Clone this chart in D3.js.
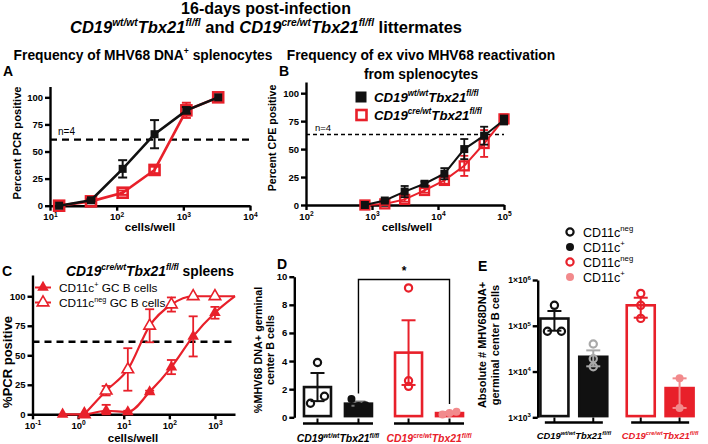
<!DOCTYPE html>
<html><head><meta charset="utf-8">
<script src="https://cdn.jsdelivr.net/npm/d3@7"></script>
<style>
body{margin:0;background:#fff;}
svg{font-family:"Liberation Sans",Arial,sans-serif;display:block;}
</style></head><body>
<svg id="c" width="708" height="444"></svg>
<script>
// ---------- DATA ----------
// Panel A: frequency of MHV68 DNA+ splenocytes (limiting dilution PCR)
const aCells   = [13.7, 41.2, 123, 370, 1111, 3333];
const aWt      = [0, 5, 34, 66, 88, 100];
const aWtErr   = [0, 1, 8, 13, 3, 0];
const aCre     = [0, 4, 12, 33, 88, 100];
const aCreErr  = [0, 1, 2, 3, 7, 0];
const aCutoff  = 61;
const aTicksY  = [0, 25, 50, 75, 100];
const aTicksX  = [10, 100, 1000, 10000];

// Panel B: ex vivo reactivation (CPE)
const bCells   = [781, 1563, 3125, 6250, 12500, 25000, 50000, 100000];
const bWt      = [0, 4, 12, 19, 28, 50, 62, 76];
const bWtErr   = [0, 1, 5, 2, 5, 9, 8, 4];
const bCre     = [0, 1, 5, 13, 22, 35, 55, 77];
const bCreErr  = [0, 1, 2, 2, 3, 9, 12, 4];
const bCutoff  = 63;
const bTicksX  = [100, 1000, 10000, 100000];

// Panel C: CD19cre/wt Tbx21fl/fl spleens, sorted GC B cells
const cPosCells = [0.457, 1.37, 4.12, 12.3, 37, 111, 333, 1000];
const cPos      = [0, 0, 3, 2, 19, 40, 66, 86];
const cPosErr   = [0, 0, 5, 1, 1, 6, 17, 5];
const cNegCells = [1.37, 4.12, 12.3, 37, 111, 333, 1000];
const cNeg      = [0, 20, 38, 75, 93, 100, 100];
const cNegErr   = [0, 4, 18, 14, 6, 0, 0];
const cCurveEnd = [2750, 100];   // fitted curves reach plateau at the right end
const cCutoff   = 61.5;
const cTicksX   = [0.1, 1, 10, 100, 1000];
const cLegend   = ["CD11c", "CD11c"];
const cLegendSup = ["+", "neg"];

// Panel D: % MHV68 DNA+ germinal center B cells
const groups   = ["wt/wt", "cre/wt"];
const subBars  = ["CD11cneg", "CD11c+"];
const dMeans   = [2.15, 0.97, 4.6, 0.3];
const dSem     = [1.0, 0.15, 2.3, 0.08];
const dPoints  = [[3.9, 1.0, 1.5], [1.3, 0.8, 0.85], [9.2, 2.6, 2.2], [0.2, 0.3, 0.4]];
const dTicksY  = [0, 2, 4, 6, 8, 10];

// Panel E: absolute # MHV68 DNA+ GC B cells
const eMeans   = [1.44e5, 2.1e4, 2.8e5, 4.35e3];
const eSem     = [6.6e4, 8e3, 1.3e5, 2.75e3];
const ePoints  = [[2.8e5, 7.6e4, 7.6e4], [4e4, 1.9e4, 1.27e4], [5.1e5, 2.8e5, 1.45e5], [7.1e3, 1.6e3]];
const eTicksY  = [1e3, 1e4, 1e5, 1e6];
const eLegend    = ["CD11c", "CD11c", "CD11c", "CD11c"];
const eLegendSup = ["neg", "+", "neg", "+"];

// ---------- STYLE ----------
const RED = "#e8202a", PINK = "#f28a8c", GREY = "#a9a9a9", BLK = "#111";
const dJitter = [[0, -1, 1], [-1, 0, 1], [0, 0, 0], [-1, 0, 1]];
const eJitter = [[0, -1, 1], [0, 0, 0], [0, 0, 0], [0, 0]];

const svg = d3.select("#c");

function rich(sel, x, y, parts, o = {}) {
  const size = o.size || 12;
  const t = sel.append("text").attr("x", x).attr("y", y)
    .attr("font-size", size).attr("font-weight", o.weight || "bold")
    .attr("fill", o.fill || "#000").attr("text-anchor", o.anchor || "start");
  const up = size * 0.42;
  let shifted = false;
  parts.forEach(p => {
    const ts = t.append("tspan").text(p.t);
    if (p.i) ts.attr("font-style", "italic");
    if (p.sup) ts.attr("font-size", size * 0.62);
    if (p.sup && !shifted) { ts.attr("dy", -up); shifted = true; }
    else if (!p.sup && shifted) { ts.attr("dy", up); shifted = false; }
  });
  return t;
}
const gene = (a) => [{t: "CD19", i: 1}, {t: a, sup: 1, i: 1}, {t: "Tbx21", i: 1}, {t: "fl/fl", sup: 1, i: 1}];

function styleAxis(g, fs) {
  g.selectAll("path, line").attr("stroke", "#000").attr("stroke-width", 2.4);
  g.selectAll("text").attr("font-size", fs).attr("font-weight", "bold")
    .attr("font-family", "Liberation Sans, Arial, sans-serif").attr("fill", "#000");
}
function powLabels(g, fs) {
  g.selectAll(".tick text").each(function(d) {
    const t = d3.select(this); t.text("");
    t.append("tspan").text("10");
    t.append("tspan").text(Math.round(Math.log10(d))).attr("font-size", fs * 0.7).attr("dy", -fs * 0.4);
  });
}
function errBars(g, xs, ys, errs, x, y, color, cap, sw) {
  xs.forEach((c, i) => {
    if (!errs[i]) return;
    const px = x(c), y1 = y(ys[i] + errs[i]), y0 = y(Math.max(ys[i] - errs[i], 0));
    g.append("line").attr("x1", px).attr("x2", px).attr("y1", y0).attr("y2", y1).attr("stroke", color).attr("stroke-width", sw);
    [y0, y1].forEach(yy => g.append("line").attr("x1", px - cap).attr("x2", px + cap).attr("y1", yy).attr("y2", yy).attr("stroke", color).attr("stroke-width", sw));
  });
}

// ---------- TITLES ----------
svg.append("text").attr("x", 266).attr("y", 14).attr("text-anchor", "middle")
  .attr("font-size", 16).attr("font-weight", "bold").text("16-days post-infection");
rich(svg, 266, 33, [...gene("wt/wt"), {t: " and "}, ...gene("cre/wt"), {t: " littermates"}], {size: 16.5, anchor: "middle"});

// ---------- PANEL A ----------
{
  const g = svg.append("g");
  const x = d3.scaleLog([10, 10000], [50, 250]);
  const y = d3.scaleLinear([0, 110], [205.7, 86.5]);
  rich(g, 143, 60, [{t: "Frequency of MHV68 DNA"}, {t: "+", sup: 1}, {t: " splenocytes"}], {size: 13.8, anchor: "middle"});
  g.append("text").attr("x", 3).attr("y", 76).attr("font-size", 14).attr("font-weight", "bold").text("A");
  const gx = g.append("g").attr("transform", "translate(0,205.7)")
    .call(d3.axisBottom(x).tickValues(aTicksX).tickSize(5).tickSizeOuter(0).tickPadding(3));
  styleAxis(gx, 9.5); powLabels(gx, 9.5);
  const gy = g.append("g").attr("transform", "translate(50,0)")
    .call(d3.axisLeft(y).tickValues(aTicksY).tickSize(5).tickSizeOuter(0).tickPadding(2));
  styleAxis(gy, 9.5);
  g.append("text").attr("transform", "translate(21,143) rotate(-90)").attr("text-anchor", "middle")
    .attr("font-size", 11.2).attr("font-weight", "bold").text("Percent PCR positive");
  g.append("text").attr("x", 150).attr("y", 231).attr("text-anchor", "middle")
    .attr("font-size", 11.5).attr("font-weight", "bold").text("cells/well");
  g.append("line").attr("x1", x(10)).attr("x2", x(10000)).attr("y1", y(aCutoff)).attr("y2", y(aCutoff))
    .attr("stroke", "#000").attr("stroke-width", 2.4).attr("stroke-dasharray", "7,5");
  g.append("text").attr("x", 58).attr("y", 135).attr("font-size", 10).text("n=4");
  const line = d3.line().x(d => x(d[0])).y(d => y(d[1]));
  g.append("path").attr("d", line(d3.zip(aCells, aCre))).attr("fill", "none").attr("stroke", RED).attr("stroke-width", 2.6);
  errBars(g, aCells, aCre, aCreErr, x, y, RED, 4.5, 2);
  g.selectAll(".rs").data(d3.zip(aCells, aCre)).join("rect").attr("x", d => x(d[0]) - 5).attr("y", d => y(d[1]) - 5)
    .attr("width", 10).attr("height", 10).attr("fill", "none").attr("stroke", RED).attr("stroke-width", 2.6);
  g.append("path").attr("d", line(d3.zip(aCells, aWt))).attr("fill", "none").attr("stroke", BLK).attr("stroke-width", 2.6);
  errBars(g, aCells, aWt, aWtErr, x, y, BLK, 4.5, 2);
  g.selectAll(".bs").data(d3.zip(aCells, aWt)).join("rect").attr("x", d => x(d[0]) - 4).attr("y", d => y(d[1]) - 4)
    .attr("width", 8).attr("height", 8).attr("fill", BLK);
}

// ---------- PANEL B ----------
{
  const g = svg.append("g");
  const x = d3.scaleLog([100, 100000], [306, 504]);
  const y = d3.scaleLinear([0, 110], [205, 82]);
  g.append("text").attr("x", 421).attr("y", 60).attr("text-anchor", "middle").attr("font-size", 13.8).attr("font-weight", "bold")
    .text("Frequency of ex vivo MHV68 reactivation");
  g.append("text").attr("x", 421).attr("y", 79).attr("text-anchor", "middle").attr("font-size", 13.8).attr("font-weight", "bold")
    .text("from splenocytes");
  g.append("text").attr("x", 279).attr("y", 76).attr("font-size", 14).attr("font-weight", "bold").text("B");
  const gx = g.append("g").attr("transform", "translate(0,205)")
    .call(d3.axisBottom(x).tickValues(bTicksX).tickSize(5).tickSizeOuter(0).tickPadding(3));
  styleAxis(gx, 9.5); powLabels(gx, 9.5);
  const gy = g.append("g").attr("transform", "translate(306,0)")
    .call(d3.axisLeft(y).tickValues(aTicksY).tickSize(5).tickSizeOuter(0).tickPadding(2));
  styleAxis(gy, 9.5);
  g.append("text").attr("transform", "translate(276,138) rotate(-90)").attr("text-anchor", "middle")
    .attr("font-size", 10.6).attr("font-weight", "bold").text("Percent CPE positive");
  g.append("text").attr("x", 407).attr("y", 231).attr("text-anchor", "middle")
    .attr("font-size", 11.5).attr("font-weight", "bold").text("cells/well");
  g.append("line").attr("x1", x(100)).attr("x2", x(100000)).attr("y1", y(bCutoff)).attr("y2", y(bCutoff))
    .attr("stroke", "#000").attr("stroke-width", 1.4).attr("stroke-dasharray", "4,3");
  g.append("text").attr("x", 315).attr("y", 131).attr("font-size", 9.5).text("n=4");
  const line = d3.line().x(d => x(d[0])).y(d => y(d[1]));
  g.append("path").attr("d", line(d3.zip(bCells, bCre))).attr("fill", "none").attr("stroke", RED).attr("stroke-width", 2);
  errBars(g, bCells, bCre, bCreErr, x, y, RED, 4, 1.8);
  g.selectAll(".rs").data(d3.zip(bCells, bCre)).join("rect").attr("x", d => x(d[0]) - 4.5).attr("y", d => y(d[1]) - 4.5)
    .attr("width", 9).attr("height", 9).attr("fill", "none").attr("stroke", RED).attr("stroke-width", 2.3);
  g.append("path").attr("d", line(d3.zip(bCells, bWt))).attr("fill", "none").attr("stroke", BLK).attr("stroke-width", 2);
  errBars(g, bCells, bWt, bWtErr, x, y, BLK, 4, 1.8);
  g.selectAll(".bs").data(d3.zip(bCells, bWt)).join("rect").attr("x", d => x(d[0]) - 4).attr("y", d => y(d[1]) - 4)
    .attr("width", 8).attr("height", 8).attr("fill", BLK);
  g.append("rect").attr("x", 355.5).attr("y", 91.5).attr("width", 11).attr("height", 11).attr("fill", BLK);
  g.append("rect").attr("x", 356.5).attr("y", 110).attr("width", 10).attr("height", 10).attr("fill", "none").attr("stroke", RED).attr("stroke-width", 2.6);
  rich(g, 374, 102, gene("wt/wt"), {size: 13.2});
  rich(g, 374, 120, gene("cre/wt"), {size: 13.2});
}

// ---------- PANEL C ----------
{
  const g = svg.append("g");
  const x = d3.scaleLog([0.1, cCurveEnd[0]], [32.5, 235]);
  const y = d3.scaleLinear([0, 118], [414.3, 275]);
  g.append("text").attr("x", 2).attr("y", 276).attr("font-size", 14).attr("font-weight", "bold").text("C");
  rich(g, 150, 276, [...gene("cre/wt"), {t: " spleens"}], {size: 13.8, anchor: "middle"});
  const gx = g.append("g").attr("transform", "translate(0,414.3)")
    .call(d3.axisBottom(x).tickValues(cTicksX).tickSize(5).tickSizeOuter(0).tickPadding(3));
  styleAxis(gx, 9.5); powLabels(gx, 9.5);
  const gy = g.append("g").attr("transform", "translate(32.5,0)")
    .call(d3.axisLeft(y).tickValues(aTicksY).tickSize(5).tickSizeOuter(0).tickPadding(2));
  styleAxis(gy, 9.5);
  g.append("text").attr("transform", "translate(12,362) rotate(-90)").attr("text-anchor", "middle")
    .attr("font-size", 13).attr("font-weight", "bold").text("%PCR positive");
  g.append("text").attr("x", 133).attr("y", 442).attr("text-anchor", "middle")
    .attr("font-size", 11.5).attr("font-weight", "bold").text("cells/well");
  g.append("line").attr("x1", x.range()[0]).attr("x2", x.range()[1]).attr("y1", y(cCutoff)).attr("y2", y(cCutoff))
    .attr("stroke", "#000").attr("stroke-width", 2.4).attr("stroke-dasharray", "7,5");
  const line = d3.line().x(d => x(d[0])).y(d => y(d[1])).curve(d3.curveMonotoneX);
  const tri = d3.symbol().type(d3.symbolTriangle).size(58);
  g.append("path").attr("d", line([...d3.zip(cNegCells, cNeg), cCurveEnd])).attr("fill", "none").attr("stroke", RED).attr("stroke-width", 2.2);
  errBars(g, cNegCells, cNeg, cNegErr, x, y, RED, 4.5, 1.8);
  g.selectAll(".on").data(d3.zip(cNegCells, cNeg)).join("path").attr("d", tri)
    .attr("transform", d => `translate(${x(d[0])},${y(d[1])})`).attr("fill", "#fff").attr("stroke", RED).attr("stroke-width", 1.6);
  g.append("path").attr("d", line([...d3.zip(cPosCells, cPos), cCurveEnd])).attr("fill", "none").attr("stroke", RED).attr("stroke-width", 2.2);
  errBars(g, cPosCells, cPos, cPosErr, x, y, RED, 4.5, 1.8);
  g.selectAll(".fp").data(d3.zip(cPosCells, cPos)).join("path").attr("d", tri)
    .attr("transform", d => `translate(${x(d[0])},${y(d[1])})`).attr("fill", RED);
  [0, 1].forEach(i => {
    const yy = 287.5 + i * 15;
    g.append("line").attr("x1", 35).attr("x2", 51).attr("y1", yy).attr("y2", yy).attr("stroke", RED).attr("stroke-width", 2);
    g.append("path").attr("d", tri).attr("transform", `translate(43,${yy})`)
      .attr("fill", i === 0 ? RED : "#fff").attr("stroke", RED).attr("stroke-width", i === 0 ? 0 : 1.6);
    rich(g, 59, yy + 4.5, [{t: cLegend[i]}, {t: cLegendSup[i], sup: 1}, {t: " GC B cells"}], {size: 11.8, weight: "normal"});
  });
}

// ---------- bar panel helper (grouped columns) ----------
function barPanel(opt) {
  const g = svg.append("g");
  const xg = d3.scaleBand().domain([0, 1]).range(opt.xr).paddingInner(0.1);
  const xi = d3.scalePoint().domain([0, 1]).range([0, xg.bandwidth()]).padding(0.5);
  const x = i => xg(Math.floor(i / 2)) + xi(i % 2);
  const y = opt.y;
  const base = y.range()[0];
  const gy = g.append("g").attr("transform", `translate(${opt.axisX},0)`)
    .call(d3.axisLeft(y).tickValues(opt.ticks).tickSize(5).tickSizeOuter(0).tickPadding(2));
  styleAxis(gy, opt.tickFs);
  if (opt.supTicks) {
    gy.selectAll(".tick text").each(function(d) {
      const t = d3.select(this); t.text("");
      t.append("tspan").text("1×10");
      t.append("tspan").text(Math.round(Math.log10(d))).attr("font-size", opt.tickFs * 0.7).attr("dy", -opt.tickFs * 0.4);
    });
  }
  const bw = opt.bw;
  opt.means.forEach((m, i) => {
    const stroke = i < 2 ? BLK : RED;
    const filled = i % 2 === 1;
    const top = y(m);
    g.append("rect").attr("x", x(i) - bw / 2).attr("y", top).attr("width", bw).attr("height", base - top - 1.2)
      .attr("fill", filled ? stroke : "#fff").attr("stroke", stroke).attr("stroke-width", 2.6);
  });
  opt.means.forEach((m, i) => {
    const col = opt.errCol[i];
    const e = opt.sem[i];
    const yTop = y(m + e), yBot = y(Math.max(m - e, y.domain()[0]));
    const cx = x(i);
    g.append("line").attr("x1", cx).attr("x2", cx).attr("y1", yBot).attr("y2", yTop).attr("stroke", col).attr("stroke-width", 2);
    [yTop, yBot].forEach(yy => g.append("line").attr("x1", cx - 7).attr("x2", cx + 7).attr("y1", yy).attr("y2", yy).attr("stroke", col).attr("stroke-width", 2));
    opt.points[i].forEach((v, j) => {
      const c = g.append("circle").attr("cx", cx + opt.jit[i][j] * 7).attr("cy", y(v)).attr("r", opt.ptOpen[i] ? 3.6 : 4);
      if (opt.ptOpen[i]) c.attr("fill", "none").attr("stroke", opt.ptCol[i]).attr("stroke-width", 2.2);
      else c.attr("fill", opt.ptCol[i]);
    });
  });
  [0, 1].forEach(k => {
    const gc = xg(k) + xg.bandwidth() / 2;
    g.append("line").attr("x1", gc - opt.grpHalf).attr("x2", gc + opt.grpHalf).attr("y1", opt.grpY).attr("y2", opt.grpY).attr("stroke", "#000").attr("stroke-width", 2.6);
    [2 * k, 2 * k + 1].forEach(i => g.append("line").attr("x1", x(i)).attr("x2", x(i)).attr("y1", opt.grpY).attr("y2", opt.grpY - 5).attr("stroke", "#000").attr("stroke-width", 2));
    rich(g, gc, opt.lblY, gene(groups[k]), {size: opt.lblFs, anchor: "middle", fill: k === 0 ? "#000" : RED});
  });
  return {g, x, y};
}

// ---------- PANEL D ----------
{
  const y = d3.scaleLinear([0, 10], [417.3, 276.7]);
  const {x} = barPanel({xr: [297, 470], y, axisX: 294.3, ticks: dTicksY, tickFs: 9.5, bw: 27,
    means: dMeans, sem: dSem, points: dPoints, jit: dJitter,
    errCol: [BLK, "#777", RED, PINK], ptCol: [BLK, BLK, RED, PINK], ptOpen: [1, 0, 1, 0],
    grpY: 423.5, grpHalf: 35, lblY: 442, lblFs: 10.4});
  svg.append("text").attr("x", 277).attr("y", 269).attr("font-size", 14).attr("font-weight", "bold").text("D");
  const t = svg.append("text").attr("transform", "translate(262,350) rotate(-90)").attr("text-anchor", "middle")
    .attr("font-size", 10.8).attr("font-weight", "bold");
  t.append("tspan").attr("x", 0).attr("dy", 0).text("%MHV68 DNA+ germinal");
  t.append("tspan").attr("x", 0).attr("dy", 12).text("center B cells");
  const bx0 = x(1), bx1 = x(3), by = 279.5;
  svg.append("path").attr("d", `M${bx0},${y(dMeans[1] + dSem[1]) - 8} V${by} H${bx1} V${y(dMeans[3] + dSem[3]) - 8}`)
    .attr("fill", "none").attr("stroke", "#000").attr("stroke-width", 1.4);
  svg.append("text").attr("x", (bx0 + bx1) / 2).attr("y", 275).attr("text-anchor", "middle").attr("font-size", 12).attr("font-weight", "bold").text("*");
}

// ---------- PANEL E ----------
{
  const y = d3.scaleLog([1e3, 1e6], [417.3, 280]);
  barPanel({xr: [535, 699], y, axisX: 537.7, ticks: eTicksY, tickFs: 8.5, supTicks: 1, bw: 28,
    means: eMeans, sem: eSem, points: ePoints, jit: eJitter,
    errCol: [BLK, GREY, RED, PINK], ptCol: [BLK, GREY, RED, PINK], ptOpen: [1, 1, 1, 0],
    grpY: 422.5, grpHalf: 29, lblY: 439, lblFs: 9.4});
  svg.append("text").attr("x", 478).attr("y", 271).attr("font-size", 14).attr("font-weight", "bold").text("E");
  const t = svg.append("text").attr("transform", "translate(486,345) rotate(-90)").attr("text-anchor", "middle")
    .attr("font-size", 11).attr("font-weight", "bold");
  t.append("tspan").attr("x", 0).attr("dy", 0).text("Absolute # MHV68DNA+");
  t.append("tspan").attr("x", 0).attr("dy", 13).text("germinal center B cells");
  const lg = svg.append("g");
  eLegend.forEach((s, i) => {
    const yy = 232 + i * 15;
    const open = i % 2 === 0;
    const col = i < 2 ? BLK : (open ? RED : PINK);
    const c = lg.append("circle").attr("cx", 570).attr("cy", yy).attr("r", open ? 3.6 : 4);
    if (open) c.attr("fill", "none").attr("stroke", col).attr("stroke-width", 2.2); else c.attr("fill", col);
    rich(lg, 583, yy + 4.5, [{t: s}, {t: eLegendSup[i], sup: 1}], {size: 12.5, weight: "normal"});
  });
}
</script>
</body></html>
